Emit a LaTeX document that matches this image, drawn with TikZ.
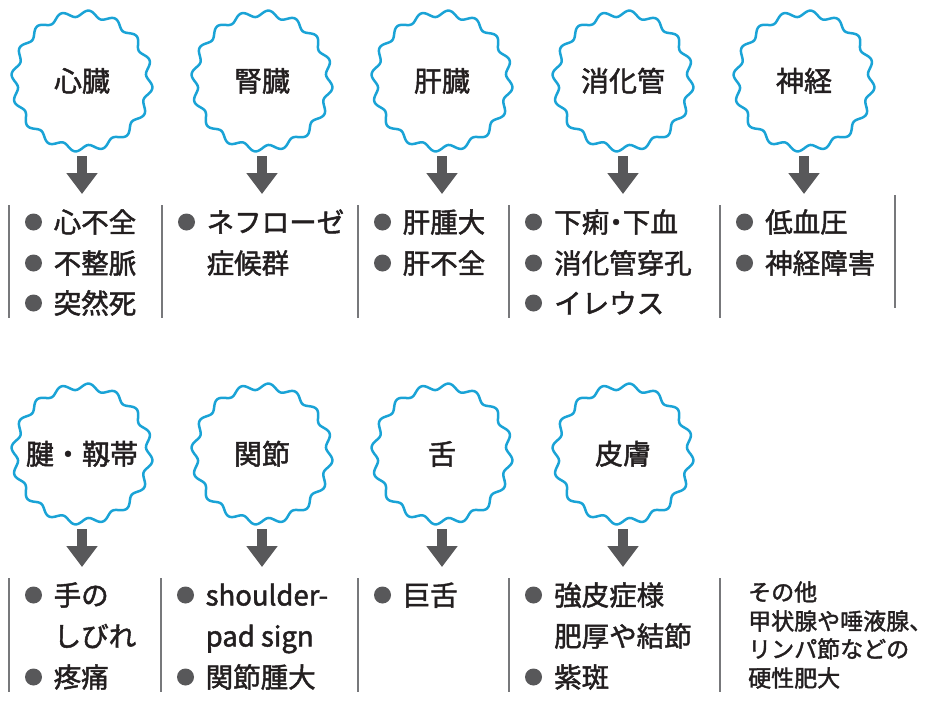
\documentclass[tikz,border=0pt]{standalone}
\usepackage{fontspec}
\setmainfont{Noto Sans CJK JP}[FakeBold=1.7]
\usetikzlibrary{arrows.meta,calc}
\definecolor{wave}{HTML}{1AA3D6}
\definecolor{ink}{HTML}{231F20}
\definecolor{darkg}{HTML}{58585A}
\definecolor{sepg}{HTML}{77787B}
\newcommand\mywavering[1]{\draw[wavy,shift={(#1.center)}] plot[domain=0:360,samples=321,smooth,variable=\t] ({(67.5+3.2*sin(16*\t))*cos(\t)},{(67.5+3.2*sin(16*\t))*sin(\t)}) -- cycle;}
\newcommand\ndot{\kern-0.25em・\kern-0.25em}
\begin{document}
\begin{tikzpicture}[x=1pt,y=-1pt,
 txt/.style={anchor=west,inner sep=0pt,text=ink,text height=24.2pt,text depth=3.3pt,font=\fontsize{27.5}{30}\selectfont},
 small/.style={anchor=west,inner sep=0pt,text=ink,text height=20.2pt,text depth=2.8pt,font=\fontsize{23}{26}\selectfont},
 bul/.style={circle,fill=darkg,minimum size=17pt,inner sep=0pt},
 lbl/.style={circle,minimum size=140pt,inner sep=0pt,text=ink,text height=24.2pt,text depth=3.3pt,font=\fontsize{28}{30}\selectfont},
 sep/.style={draw=sepg,line width=1.4pt},
 darr/.style={draw=darkg,line width=10pt,shorten <=5pt,-{Triangle[width=30pt,length=21pt]}},
 wavy/.style={draw=wave,line width=2.5pt}]
\useasboundingbox (0,0) rectangle (939,702);

% ---------- row 1 circles
\node[lbl] (c1) at (82,81) {心臓};
\node[lbl] (c2) at (262,81) {腎臓};
\node[lbl] (c3) at (442,81) {肝臓};
\node[lbl] (c4) at (623,81) {消化管};
\node[lbl] (c5) at (804,81) {神経};
\foreach \n in {c1,c2,c3,c4,c5}{\mywavering{\n}}
% ---------- row 2 circles
\node[lbl] (d1) at (82,454) {腱・靱帯};
\node[lbl] (d2) at (262,454) {関節};
\node[lbl] (d3) at (442,454) {舌};
\node[lbl] (d4) at (623,454) {皮膚};
\foreach \n in {d1,d2,d3,d4}{\mywavering{\n}}

% ---------- arrows
\foreach \n/\x in {c1/82,c2/262,c3/442,c4/623,c5/804}{
  \coordinate (a\n) at (\x,194);
  \draw[darr] (\n.south) -- (a\n);}
\foreach \n/\x in {d1/82,d2/262,d3/442,d4/623}{
  \coordinate (a\n) at (\x,567);
  \draw[darr] (\n.south) -- (a\n);}

% ---------- separators row 1
\foreach \x in {9,162,358,509,720}{\draw[sep] (\x,205) -- (\x,318);}
\draw[sep] (895,195) -- (895,308);
% ---------- separators row 2
\foreach \x in {9,161,358,509,720}{\draw[sep] (\x,578) -- (\x,692);}

% ---------- row 1 lists
\node[bul] (b1a) at (33.5,222) {}; \node[txt] (t1a) at (53.5,222) {心不全};
\node[bul] (b1b) at (33.5,263) {}; \node[txt] (t1b) at (53.5,263) {不整脈};
\node[bul] (b1c) at (33.5,303) {}; \node[txt] (t1c) at (53.5,303) {突然死};

\node[bul] (b2a) at (186.5,222) {}; \node[txt] (t2a) at (206.5,222) {ネフローゼ};
\node[txt] (t2b) at (206.5,263) {症候群};

\node[bul] (b3a) at (382.5,222) {}; \node[txt] (t3a) at (402.5,222) {肝腫大};
\node[bul] (b3b) at (382.5,263) {}; \node[txt] (t3b) at (402.5,263) {肝不全};

\node[bul] (b4a) at (533.5,222) {}; \node[txt] (t4a) at (554,222) {下痢\ndot 下血};
\node[bul] (b4b) at (533.5,263) {}; \node[txt] (t4b) at (554,263) {消化管穿孔};
\node[bul] (b4c) at (533.5,303) {}; \node[txt] (t4c) at (554,303) {イレウス};

\node[bul] (b5a) at (744.5,222) {}; \node[txt] (t5a) at (765,222) {低血圧};
\node[bul] (b5b) at (744.5,263) {}; \node[txt] (t5b) at (765,263) {神経障害};

% ---------- row 2 lists
\node[bul] (e1a) at (33.5,595) {}; \node[txt] (u1a) at (53.5,595) {手の};
\node[txt] (u1b) at (53.5,636) {しびれ};
\node[bul] (e1c) at (33.5,677) {}; \node[txt] (u1c) at (53.5,677) {疼痛};

\node[bul] (e2a) at (185.5,595) {}; \node[txt] (u2a) at (205.5,595) {shoulder-};
\node[txt] (u2b) at (205.5,636) {pad sign};
\node[bul] (e2c) at (185.5,677) {}; \node[txt] (u2c) at (205.5,677) {関節腫大};

\node[bul] (e3a) at (382.5,595) {}; \node[txt] (u3a) at (402.5,595) {巨舌};

\node[bul] (e4a) at (533.5,595) {}; \node[txt] (u4a) at (554,595) {強皮症様};
\node[txt] (u4b) at (554,636) {肥厚や結節};
\node[bul] (e4c) at (533.5,677) {}; \node[txt] (u4c) at (554,677) {紫斑};

\node[small] (o1) at (748,592) {その他};
\node[small] (o2) at (748,621) {甲状腺や唾液腺、};
\node[small] (o3) at (748,649) {リンパ節などの};
\node[small] (o4) at (748,678) {硬性肥大};
\end{tikzpicture}
\end{document}
